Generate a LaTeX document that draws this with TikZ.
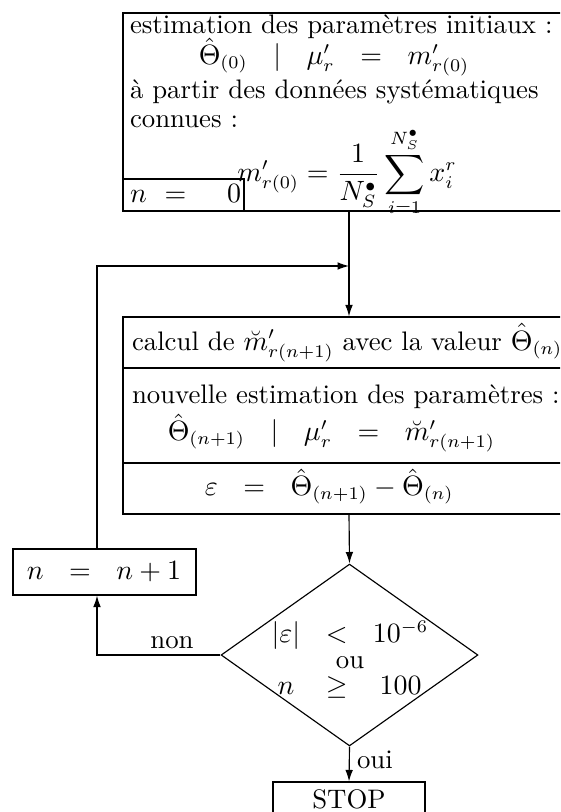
\documentclass[tikz,border=0pt]{standalone}
\usepackage{amsmath}
\usetikzlibrary{arrows.meta,fit,shapes.geometric}
\tikzset{
  boxnode/.style={draw, line width=0.45pt, inner sep=0pt},
  txt/.style={inner sep=0pt, outer sep=0pt, font=\fontsize{10.5}{12.6}\selectfont},
  arr/.style={line width=0.45pt, -{Latex[length=4.5pt,width=3pt]}},
  plain/.style={line width=0.45pt}
}
\begin{document}
\begin{tikzpicture}[x=0.392pt,y=-0.392pt]
\useasboundingbox (0,0) rectangle (560,812);
\clip (0,0) rectangle (560,812);
% top box
\node[boxnode, fit={(123,13)(620,211)}] (init) {};
\node[txt, anchor=base west] (t1) at (130,34) {estimation des paramètres initiaux :};
\node[txt, anchor=base west] (t2) at (186,64) {$\begin{array}{ccccc}\hat\Theta_{(0)} & | & \mu'_r & = & m'_{r(0)}\end{array}$};
\node[txt, anchor=base west] (t3) at (130,99) {à partir des données systématiques};
\node[txt, anchor=base west] (t4) at (130,128) {connues :};
\node[txt] (t5) at (347,172) {$\displaystyle m'_{r(0)}=\frac{1}{N_S^\bullet}\sum_{i=1}^{N_S^\bullet}x_i^r$};
\node[boxnode, fit={(123,179)(244,211)}] (nzero) {};
\node[txt, anchor=base west] (nzerot) at (130,203) {${n}\hspace{7pt}{=}\hspace{16pt}{0}$};
% middle box
\node[boxnode, fit={(123,317)(620,514)}] (iter) {};
\draw[plain] (123,368) -- (620,368);
\draw[plain] (123,463) -- (620,463);
\node[txt, anchor=base west] (c1) at (132,350) {calcul de $\breve m'_{r(n+1)}$ avec la valeur $\hat\Theta_{(n)}$};
\node[txt, anchor=base west] (c2) at (132,403) {nouvelle estimation des paramètres :};
\node[txt, anchor=base west] (c3) at (155,440) {$\begin{array}{ccccc}\hat\Theta_{(n+1)} & | & \mu'_r & = & \breve m'_{r(n+1)}\end{array}$};
\node[txt, anchor=base west] (c4) at (192,494) {$\begin{array}{ccc}\varepsilon & = & \hat\Theta_{(n+1)}-\hat\Theta_{(n)}\end{array}$};
% decision
\node[draw, line width=0.45pt, diamond, minimum width=100.7pt, minimum height=71.3pt, inner sep=0pt] (dec) at (349.5,655) {};
\node[txt] (dect) at (350,662) {$\begin{array}{ccc}|\varepsilon| & < & 10^{-6}\\[-2.5pt] \multicolumn{3}{c}{\mbox{ou}}\\[-2.5pt] n & \geq & 100\end{array}$};
% n = n+1
\node[boxnode, fit={(13,549)(196,595)}] (inc) {};
\node[txt, anchor=base] (inct) at (104,580) {$\begin{array}{ccc}n & = & n+1\end{array}$};
% STOP
\node[boxnode, fit={(273,782)(425,840)}] (stop) {};
\node[txt] (stopt) at (349,799) {STOP};
% connectors
\coordinate (j) at (349,266);
\coordinate (loop) at (97,266);
\draw[arr] (init.south -| j) -- (iter.north -| j);
\draw[arr] (iter.south -| j) -- (dec.north);
\draw[arr] (dec.west) -| (inc.south -| loop);
\draw[arr] (inc.north -| loop) -- (loop) -- (j);
\draw[arr] (dec.south) -- (stop.north);
\node[txt, anchor=base] (non) at (172,648) {non};
\node[txt, anchor=base west] (oui) at (357,768) {oui};
\end{tikzpicture}
\end{document}
